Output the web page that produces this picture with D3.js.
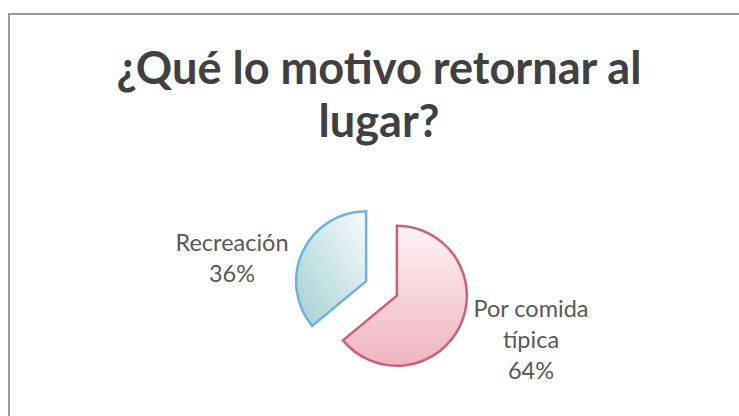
<!DOCTYPE html>
<html>
<head>
<meta charset="utf-8">
<script src="https://cdn.jsdelivr.net/npm/d3@7"></script>
<style>
  html, body { margin: 0; padding: 0; background: #ffffff; }
  svg { display: block; }
</style>
</head>
<body>
<svg id="chart" width="739" height="416"></svg>
<script>
// ---- data ----
const titleLines = ["¿Qué lo motivo retornar al", "lugar?"];
const categories = ["Por comida típica", "Recreación"];
const values = [64, 36];
const labelLines = [["Por comida", "típica", "64%"], ["Recreación", "36%"]];

// ---- layout / style ----
const W = 739, H = 416;
const svg = d3.select("#chart");
const font = "Lato, 'Open Sans', 'Noto Sans', sans-serif";

// frame
svg.append("path")
  .attr("d", d3.line()([[9, H], [9, 14], [W, 14]]))
  .attr("fill", "none")
  .attr("stroke", "#9a9a9a")
  .attr("stroke-width", 2);

// title
const title = svg.append("text")
  .attr("text-anchor", "middle")
  .attr("font-family", font)
  .attr("font-weight", "bold")
  .attr("font-size", 40)
  .attr("fill", "#404040");
titleLines.forEach((t, i) => {
  title.append("tspan").attr("x", 379).attr("y", 84 + i * 53).text(t);
});
// fit first line to reference width
const first = title.select("tspan").node();
const w0 = first.getComputedTextLength();
title.attr("font-size", 40 * 525 / w0);

// gradients
const defs = svg.append("defs");
const gradSpecs = [
  {id: "gRed", x1: "0%", y1: "0%", x2: "0%", y2: "100%", c1: "#fdf3f5", c2: "#efb4c1"},
  {id: "gBlue", x1: "100%", y1: "0%", x2: "0%", y2: "100%", c1: "#f7fbfc", c2: "#a3d0d3"}
];
gradSpecs.forEach(g => {
  const lg = defs.append("linearGradient").attr("id", g.id)
    .attr("x1", g.x1).attr("y1", g.y1).attr("x2", g.x2).attr("y2", g.y2);
  lg.append("stop").attr("offset", "0%").attr("stop-color", g.c1);
  lg.append("stop").attr("offset", "100%").attr("stop-color", g.c2);
});
const fills = d3.scaleOrdinal().domain(categories).range(["url(#gRed)", "url(#gBlue)"]);
const strokes = d3.scaleOrdinal().domain(categories).range(["#cf5f78", "#6cb4dd"]);

// pie
const cx = 381.5, cy = 288.5, r = 70, explode = 17;
const pie = d3.pie().sort(null).value(d => d.value);
const arcs = pie(categories.map((c, i) => ({cat: c, value: values[i]})));
const arc = d3.arc().innerRadius(0).outerRadius(r);

const g = svg.append("g").attr("transform", `translate(${cx},${cy})`);
g.selectAll("path").data(arcs).join("path")
  .attr("transform", d => {
    const m = (d.startAngle + d.endAngle) / 2;
    return `translate(${Math.sin(m) * explode},${-Math.cos(m) * explode})`;
  })
  .attr("d", arc)
  .attr("fill", d => fills(d.data.cat))
  .attr("stroke", d => strokes(d.data.cat))
  .attr("stroke-width", 2.5)
  .attr("stroke-linejoin", "miter");

// labels
const labelPos = [{x: 531, y: 317}, {x: 232, y: 251}];
arcs.forEach((d, i) => {
  const t = svg.append("text")
    .attr("text-anchor", "middle")
    .attr("font-family", font)
    .attr("font-size", 23.5)
    .attr("fill", "#595959");
  labelLines[i].forEach((s, j) => {
    t.append("tspan").attr("x", labelPos[i].x).attr("y", labelPos[i].y + j * 31).text(s);
  });
});
</script>
</body>
</html>
